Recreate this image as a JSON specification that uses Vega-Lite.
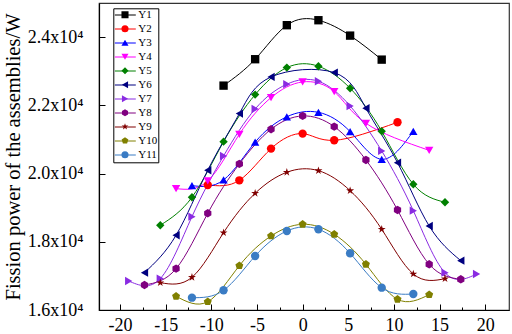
{
  "$schema": "https://vega.github.io/schema/vega-lite/v6.json",
  "width": 410,
  "height": 307,
  "autosize": {"type": "none"},
  "padding": {"left": 99, "top": 3, "right": 3, "bottom": 24},
  "background": "white",
  "config": {
    "view": {"stroke": "#333333", "strokeWidth": 1.2},
    "axis": {"grid": false, "domainColor": "black", "tickColor": "black", "labelColor": "black", "titleColor": "black"}
  },
  "data": {
    "values": [
      {"series": "Y1", "x": -8.66, "y": 22578}, {"series": "Y1", "x": -5.20, "y": 23352}, {"series": "Y1", "x": -1.73, "y": 24349}, {"series": "Y1", "x": 1.73, "y": 24495}, {"series": "Y1", "x": 5.20, "y": 24044}, {"series": "Y1", "x": 8.66, "y": 23340},
      {"series": "Y2", "x": -10.39, "y": 19666}, {"series": "Y2", "x": -6.93, "y": 19802}, {"series": "Y2", "x": -3.46, "y": 20731}, {"series": "Y2", "x": 0, "y": 21171}, {"series": "Y2", "x": 3.46, "y": 20975}, {"series": "Y2", "x": 10.39, "y": 21503},
      {"series": "Y3", "x": -12.12, "y": 19646}, {"series": "Y3", "x": -8.66, "y": 19812}, {"series": "Y3", "x": -5.20, "y": 20920}, {"series": "Y3", "x": -1.73, "y": 21665}, {"series": "Y3", "x": 1.73, "y": 21795}, {"series": "Y3", "x": 5.20, "y": 21230}, {"series": "Y3", "x": 8.66, "y": 20418}, {"series": "Y3", "x": 12.12, "y": 21239},
      {"series": "Y4", "x": -13.86, "y": 19558}, {"series": "Y4", "x": -10.39, "y": 19783}, {"series": "Y4", "x": -6.93, "y": 21152}, {"series": "Y4", "x": -3.46, "y": 22226}, {"series": "Y4", "x": 0, "y": 22686}, {"series": "Y4", "x": 3.46, "y": 22402}, {"series": "Y4", "x": 6.93, "y": 21474}, {"series": "Y4", "x": 13.86, "y": 20680},
      {"series": "Y5", "x": -15.59, "y": 18484}, {"series": "Y5", "x": -12.12, "y": 19305}, {"series": "Y5", "x": -8.66, "y": 20935}, {"series": "Y5", "x": -5.20, "y": 22314}, {"series": "Y5", "x": -1.73, "y": 23106}, {"series": "Y5", "x": 1.73, "y": 23146}, {"series": "Y5", "x": 5.20, "y": 22501}, {"series": "Y5", "x": 8.66, "y": 21240}, {"series": "Y5", "x": 12.12, "y": 19686}, {"series": "Y5", "x": 15.59, "y": 19158},
      {"series": "Y6", "x": -17.32, "y": 17094}, {"series": "Y6", "x": -13.86, "y": 18191}, {"series": "Y6", "x": -10.39, "y": 20097}, {"series": "Y6", "x": -6.93, "y": 21757}, {"series": "Y6", "x": -3.46, "y": 22833}, {"series": "Y6", "x": 3.46, "y": 22959}, {"series": "Y6", "x": 6.93, "y": 21915}, {"series": "Y6", "x": 10.39, "y": 20320}, {"series": "Y6", "x": 13.86, "y": 18463}, {"series": "Y6", "x": 17.32, "y": 17446},
      {"series": "Y7", "x": -19.05, "y": 16850}, {"series": "Y7", "x": -15.59, "y": 16920}, {"series": "Y7", "x": -12.12, "y": 18737}, {"series": "Y7", "x": -8.66, "y": 20516}, {"series": "Y7", "x": -5.20, "y": 21894}, {"series": "Y7", "x": -1.73, "y": 22620}, {"series": "Y7", "x": 1.73, "y": 22706}, {"series": "Y7", "x": 5.20, "y": 21982}, {"series": "Y7", "x": 8.66, "y": 20663}, {"series": "Y7", "x": 12.12, "y": 18912}, {"series": "Y7", "x": 15.59, "y": 17094}, {"series": "Y7", "x": 19.05, "y": 17056},
      {"series": "Y8", "x": -17.32, "y": 16733}, {"series": "Y8", "x": -13.86, "y": 17211}, {"series": "Y8", "x": -10.39, "y": 18836}, {"series": "Y8", "x": -6.93, "y": 20282}, {"series": "Y8", "x": -3.46, "y": 21299}, {"series": "Y8", "x": 0, "y": 21689}, {"series": "Y8", "x": 3.46, "y": 21375}, {"series": "Y8", "x": 6.93, "y": 20399}, {"series": "Y8", "x": 10.39, "y": 18933}, {"series": "Y8", "x": 13.86, "y": 17340}, {"series": "Y8", "x": 17.32, "y": 16900},
      {"series": "Y9", "x": -15.59, "y": 16801}, {"series": "Y9", "x": -12.12, "y": 16959}, {"series": "Y9", "x": -8.66, "y": 18267}, {"series": "Y9", "x": -5.20, "y": 19422}, {"series": "Y9", "x": -1.73, "y": 20038}, {"series": "Y9", "x": 1.73, "y": 20085}, {"series": "Y9", "x": 5.20, "y": 19499}, {"series": "Y9", "x": 8.66, "y": 18367}, {"series": "Y9", "x": 12.12, "y": 17056}, {"series": "Y9", "x": 15.59, "y": 16918},
      {"series": "Y10", "x": -13.86, "y": 16402}, {"series": "Y10", "x": -10.39, "y": 16243}, {"series": "Y10", "x": -6.93, "y": 17299}, {"series": "Y10", "x": -3.46, "y": 18170}, {"series": "Y10", "x": 0, "y": 18513}, {"series": "Y10", "x": 3.46, "y": 18220}, {"series": "Y10", "x": 6.93, "y": 17340}, {"series": "Y10", "x": 10.39, "y": 16314}, {"series": "Y10", "x": 13.86, "y": 16449},
      {"series": "Y11", "x": -12.12, "y": 16361}, {"series": "Y11", "x": -8.66, "y": 16578}, {"series": "Y11", "x": -5.20, "y": 17584}, {"series": "Y11", "x": -1.73, "y": 18317}, {"series": "Y11", "x": 1.73, "y": 18367}, {"series": "Y11", "x": 5.20, "y": 17663}, {"series": "Y11", "x": 8.66, "y": 16654}, {"series": "Y11", "x": 12.12, "y": 16469}
    ]
  },
  "layer": [
    {
      "mark": {"type": "line", "interpolate": "natural", "strokeWidth": 1},
      "encoding": {
        "x": {
          "field": "x", "type": "quantitative",
          "scale": {"domain": [-22.3, 22.6], "nice": false, "zero": false},
          "axis": {"title": null, "orient": "bottom", "values": [-20, -15, -10, -5, 0, 5, 10, 15, 20], "labelExpr": "'' + datum.value", "tickSize": -6, "labelPadding": 12, "labelFont": "Liberation Serif", "labelFontSize": 18, "domainWidth": 1.2}
        },
        "y": {
          "field": "y", "type": "quantitative",
          "scale": {"domain": [16000, 25000], "nice": false, "zero": false},
          "axis": {"title": "Fission power of the assemblies/W", "values": [16000, 18000, 20000, 22000, 24000], "labelExpr": "format(datum.value / 10000, '.1f') + 'x10⁴'", "tickSize": -6, "labelPadding": 22, "labelFont": "Liberation Serif", "labelFontSize": 18, "titleFont": "Liberation Serif", "titleFontSize": 20.5, "titleFontWeight": "normal", "titlePadding": 4, "domainWidth": 1.2}
        },
        "detail": {"field": "series"},
        "stroke": {
          "field": "series", "type": "nominal",
          "sort": ["Y1", "Y2", "Y3", "Y4", "Y5", "Y6", "Y7", "Y8", "Y9", "Y10", "Y11"],
          "scale": {"range": ["#000000", "#ff0000", "#0000ff", "#ff00ff", "#008000", "#000080", "#8a2be2", "#800080", "#800000", "#808000", "#3a7cc4"]},
          "legend": {"orient": "none", "legendX": 14.3, "legendY": 5.3, "title": null, "strokeColor": "black", "padding": 1, "symbolType": "stroke", "symbolSize": 441, "symbolStrokeWidth": 1, "clipHeight": 11.4, "rowPadding": 1, "labelFont": "Liberation Serif", "labelFontSize": 11, "labelOffset": 2, "labelColor": "black"}
        }
      }
    },
    {
      "mark": {"type": "point", "filled": true, "size": 70, "opacity": 1},
      "encoding": {
        "x": {
          "field": "x", "type": "quantitative",
          "axis": {"title": null, "orient": "bottom", "values": [-17.5, -12.5, -7.5, -2.5, 2.5, 7.5, 12.5, 17.5], "labels": false, "domain": false, "tickSize": -3}
        },
        "y": {"field": "y", "type": "quantitative"},
        "fill": {
          "field": "series", "type": "nominal",
          "scale": {"domain": ["Y1", "Y2", "Y3", "Y4", "Y5", "Y6", "Y7", "Y8", "Y9", "Y10", "Y11"], "range": ["#000000", "#ff0000", "#0000ff", "#ff00ff", "#008000", "#000080", "#8a2be2", "#800080", "#800000", "#808000", "#3a7cc4"]},
          "legend": {"orient": "top-left", "offset": 5.3, "title": null, "padding": 1, "symbolSize": 50, "symbolStrokeWidth": 0, "symbolOffset": 14.5, "clipHeight": 11.4, "rowPadding": 1, "labelFont": "Liberation Serif", "labelFontSize": 11, "labelOffset": 24, "labelExpr": "''"}
        },
        "shape": {
          "field": "series", "type": "nominal",
          "scale": {"domain": ["Y1", "Y2", "Y3", "Y4", "Y5", "Y6", "Y7", "Y8", "Y9", "Y10", "Y11"], "range": ["square", "circle", "triangle-up", "triangle-down", "diamond", "triangle-left", "triangle-right", "M0,-1L0.866,-0.5L0.866,0.5L0,1L-0.866,0.5L-0.866,-0.5Z", "M0,-1L0.2245,-0.309L0.951,-0.309L0.363,0.118L0.588,0.809L0,0.382L-0.588,0.809L-0.363,0.118L-0.951,-0.309L-0.2245,-0.309Z", "M0,-1L0.951,-0.309L0.588,0.809L-0.588,0.809L-0.951,-0.309Z", "circle"]},
          "legend": {"orient": "top-left", "offset": 5.3, "title": null, "padding": 1, "symbolSize": 50, "symbolStrokeWidth": 0, "symbolOffset": 14.5, "clipHeight": 11.4, "rowPadding": 1, "labelFont": "Liberation Serif", "labelFontSize": 11, "labelOffset": 24, "labelExpr": "''"}
        }
      }
    }
  ],
  "resolve": {"axis": {"x": "independent"}}
}
